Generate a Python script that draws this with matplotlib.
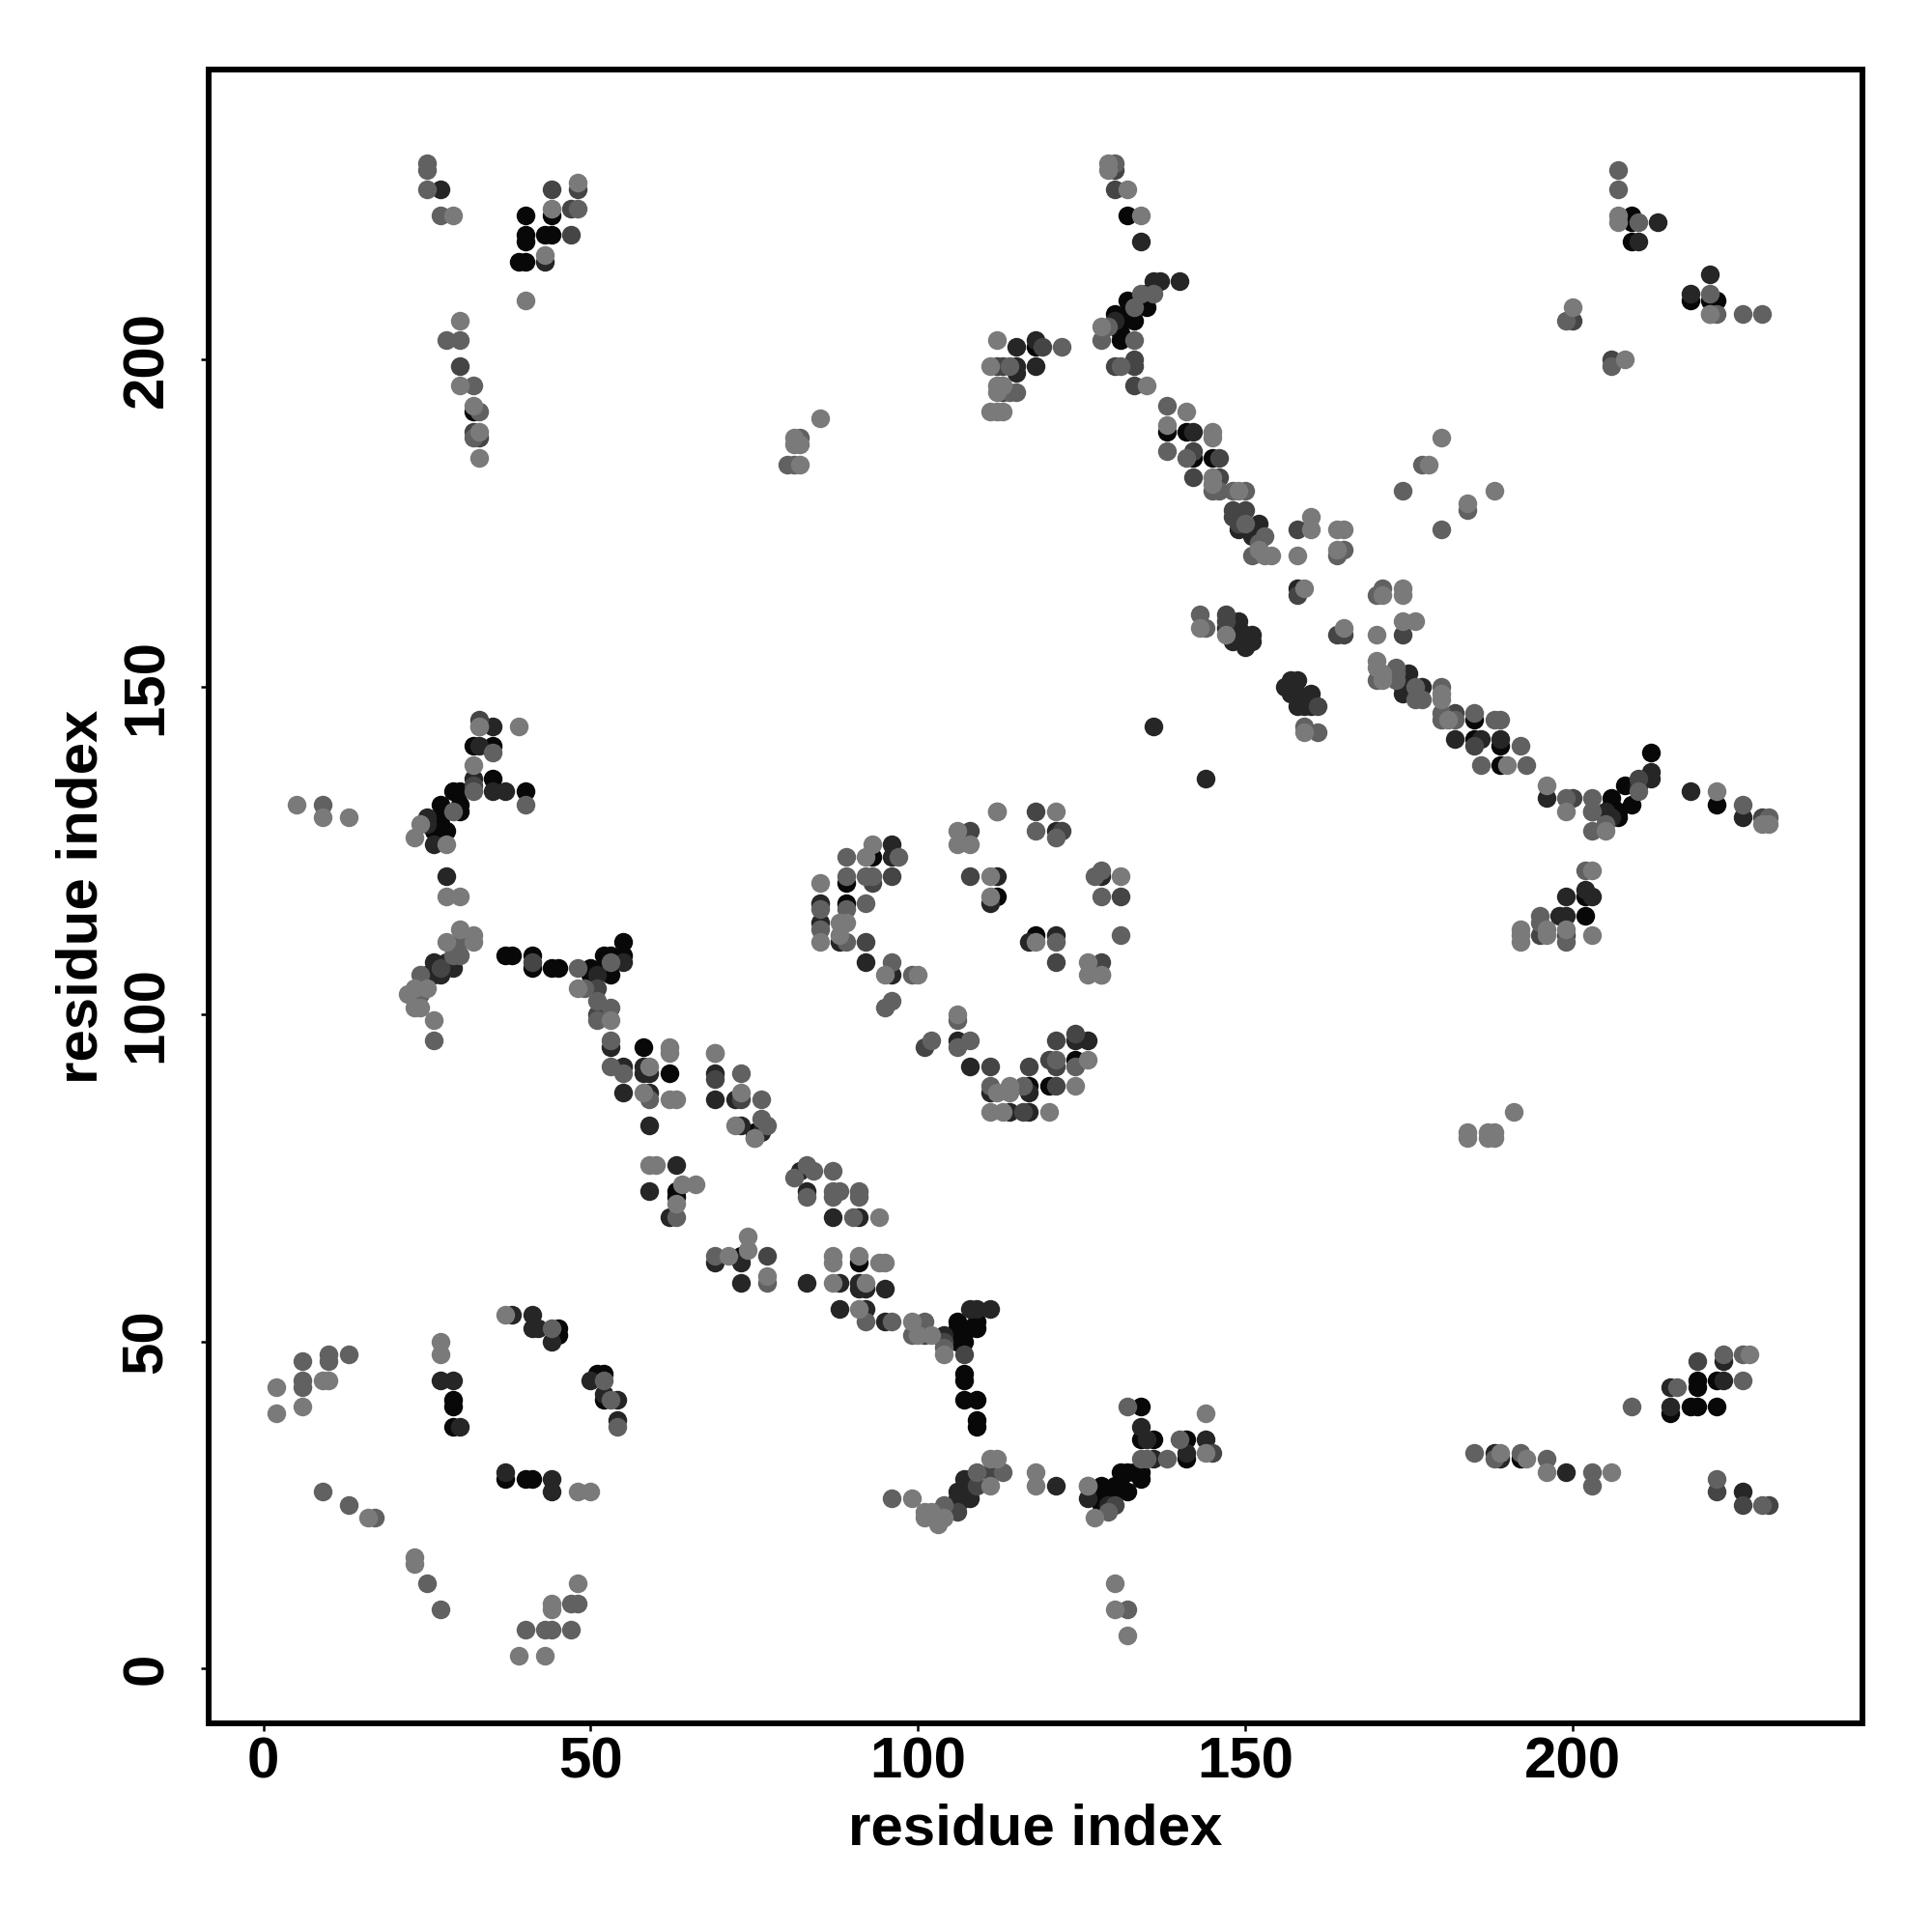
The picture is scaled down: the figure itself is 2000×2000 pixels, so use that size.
import matplotlib
matplotlib.use("Agg")
import matplotlib.pyplot as plt

# contacts as (residue x, residue y), one list per grey level
black_pts = [
    (40,222),(40,219),(40,218),(39,215),(40,215),(43,219),(44,219),(44,222),(32,192),
    (132,222),(135,210),(132,209),(135,208),(133,208),(130,207),(132,207),(131,206),(133,206),
    (131,204),(131,203),(118,202),(138,189),(141,189),(142,185),(145,185),
    (209,222),(209,221),(209,218),(218,209),(221,209),(222,209),
    (32,141),(35,141),(35,136),(40,134),(29,134),(30,134),(30,132),(30,131),(27,132),(27,130),
    (27,129),(28,128),(26,129),(26,128),
    (37,109),(38,109),(41,109),(41,107),(44,107),(45,107),(55,111),(55,109),(52,109),(53,109),
    (50,107),(52,107),(50,106),(53,106),
    (58,95),(62,91),(63,73),(93,124),(89,120),(89,117),(112,118),(118,112),(124,93),(117,89),
    (120,89),(75,82),(91,62),(106,53),(106,52),(109,53),(109,52),(106,51),(107,50),(106,50),
    (108,52),(107,45),(107,44),(107,41),(109,41),(109,38),(109,37),
    (134,40),(134,35),(136,35),(141,35),(141,32),(131,30),(132,30),(133,30),(134,30),(134,29),
    (131,28),(128,28),(132,27),(130,28),(130,27),(128,27),(128,26),(129,26),(128,25),
    (29,41),(29,40),(29,37),(45,52),(45,51),(52,45),(51,45),(52,41),(37,29),(40,29),(41,29),
    (73,63),(63,72),(215,39),(218,40),(219,40),(222,40),(219,44),(219,43),(222,44),(192,32),
    (212,140),(208,135),(209,132),(206,133),(206,132),(207,131),(207,130),(222,132),(202,118),
    (202,115),(185,145),(185,142),(189,141),(189,138),
]
dark_pts = [
    (27,226),(43,215),(134,218),(136,212),(137,212),(140,212),(130,206),(115,202),(118,203),
    (115,199),(115,198),(118,199),(142,189),(149,174),(152,175),(151,173),(150,158),(151,158),
    (150,156),(151,157),(148,157),(149,160),(147,159),(149,159),(157,151),(156,150),(157,149),
    (213,221),(210,218),(221,213),(218,210),
    (35,144),(33,141),(32,136),(35,134),(37,134),(26,126),(25,130),(25,129),(28,121),
    (26,108),(28,108),(29,107),(25,106),(26,106),(27,106),(55,108),(51,106),(53,95),(55,92),
    (58,92),(58,91),(59,91),(69,91),(55,88),(59,88),(69,87),(72,87),(59,83),(73,83),(63,77),(59,73),
    (136,144),(144,136),(121,128),(96,126),(96,124),(85,117),(85,114),(88,111),(92,108),(96,106),
    (112,121),(111,117),(128,121),(121,112),(117,111),(106,96),(108,92),(124,96),(126,96),
    (111,88),(117,88),(114,85),(117,85),(76,82),(82,76),(83,73),
    (87,69),(91,69),(83,59),(88,59),(91,59),(91,58),(92,58),(95,58),(88,55),(92,55),(95,53),
    (104,51),(108,55),(109,55),(111,55),(134,37),(135,35),(144,35),(141,33),(136,32),
    (126,26),(129,25),(121,28),(107,29),(108,29),(106,27),(107,28),(107,26),(108,26),(106,26),(106,25),
    (27,44),(29,44),(38,54),(41,54),(41,52),(42,52),(44,50),(50,44),(52,42),(54,41),(54,38),(30,37),
    (37,30),(44,29),(44,27),(62,69),(69,62),(73,62),(73,59),(215,43),(215,40),(223,44),(223,47),
    (226,27),(188,33),(189,32),(199,30),
    (212,137),(212,136),(210,135),(205,131),(206,130),(205,130),(203,131),(196,133),(218,134),
    (226,130),(202,119),(203,118),(199,118),(198,115),(199,115),
    (175,152),(174,150),(174,149),(177,150),(182,142),(186,142),(189,142),
    (158,151),(160,149),(158,149),(159,148),(159,147),(158,147),(160,147),(158,165),
]
middark_pts = [
    (44,226),(47,223),(47,219),(48,226),(130,199),(30,199),(33,188),(32,189),(130,229),(130,226),
    (133,200),(133,199),(133,196),(112,199),(113,199),(113,195),(119,202),(142,186),(142,182),
    (146,185),(146,182),(148,177),(148,176),(150,177),(149,175),(147,161),(147,160),
    (200,206),(206,200),(158,174),(158,164),(164,158),(165,158),(174,158),
    (33,145),(32,135),(41,108),(27,107),(24,104),(51,104),(51,100),(69,90),(73,87),
    (118,131),(108,128),(122,128),(93,120),(96,121),(92,111),(108,121),(131,118),(121,108),(128,108),
    (128,106),(101,95),(111,92),(117,92),(121,96),(124,97),(120,93),(121,92),(121,89),(116,85),
    (77,63),(103,24),(106,24),(109,28),(111,30),(145,33),(130,25),(104,50),(101,51),(107,48),
    (219,47),(222,27),(226,25),(230,25),(200,133),(210,136),(229,130),(199,112),(195,112),
    (182,146),(185,141),(161,147),
]
mid_pts = [
    (25,230),(25,229),(25,226),(27,222),(30,203),(32,196),(33,192),(32,188),(28,203),(48,223),
    (130,230),(133,203),(128,203),(129,205),(131,199),(133,208),(122,202),(138,193),(138,186),
    (141,185),(145,180),(146,180),(148,180),(150,180),(150,175),(153,173),(152,172),(151,170),
    (82,188),(80,184),(81,184),(114,195),(115,195),(114,199),(144,159),(143,161),(134,210),(136,210),
    (207,229),(207,226),(210,221),(221,210),(221,207),(222,207),(226,207),(229,207),(199,206),(206,199),
    (177,184),(174,180),(184,177),(180,174),(164,170),(165,171),(171,165),(170,164),
    (9,132),(40,132),(35,140),(32,134),(29,131),(33,144),(30,111),(30,109),(29,109),(24,106),(24,103),
    (26,96),(48,107),(53,108),(49,104),(51,102),(51,99),(53,101),(53,96),(53,92),(55,91),(59,87),
    (69,94),(73,91),(112,131),(118,128),(121,127),(89,124),(97,124),(89,121),(92,121),(93,121),(89,116),
    (92,117),(85,113),(85,116),(89,111),(96,108),(99,106),(95,101),(96,102),(102,96),(106,95),(108,96),(106,99),
    (128,122),(127,121),(128,118),(121,111),(131,112),(121,93),(124,92),(111,89),(116,89),
    (76,87),(76,84),(77,83),(75,81),(83,77),(84,76),(81,75),(87,76),(87,73),(88,73),(91,73),
    (83,72),(87,72),(91,72),(90,69),(63,69),(77,59),(92,53),(96,53),(101,53),(99,51),(104,49),
    (132,40),(140,35),(134,32),(135,32),(138,32),(126,28),(129,24),(132,9),(96,26),(109,30),(113,30),(104,25),
    (6,47),(6,44),(6,43),(10,48),(10,47),(13,48),(44,52),(52,44),(53,41),(54,37),(47,10),(48,10),
    (40,6),(43,6),(44,6),(47,6),(9,27),(13,25),(17,23),(25,13),(27,9),(69,63),
    (209,40),(216,43),(223,48),(226,44),(226,48),(185,33),(188,32),(192,33),(196,32),(203,30),(203,28),
    (222,29),(229,25),
    (210,134),(203,133),(205,129),(203,128),(199,133),(203,131),(226,132),(230,130),
    (202,122),(195,115),(195,114),(199,111),
    (170,151),(173,153),(173,152),(173,151),(176,150),(176,148),(177,148),(180,150),(180,146),(180,145),
    (182,145),(185,146),(188,145),(189,145),(192,141),(186,138),(193,138),(159,144),(161,143),
]
light_pts = [
    (29,222),(48,227),(43,216),(40,209),(30,206),(30,196),(32,193),(33,189),(33,185),(44,223),
    (129,230),(129,229),(132,226),(134,222),(128,205),(135,196),(112,203),(111,199),(112,196),(112,195),
    (113,196),(111,192),(112,192),(113,192),(85,191),(81,188),(81,187),(82,187),(82,184),
    (141,192),(138,190),(145,189),(145,188),(145,182),(145,181),(149,180),(152,171),(153,170),(154,170),
    (143,159),(147,158),
    (207,222),(207,221),(221,207),(200,208),(208,200),(180,188),(178,184),(188,180),(184,178),
    (160,176),(160,174),(164,174),(165,174),(164,171),(158,170),(159,165),(171,164),(174,165),(174,164),
    (165,159),(170,158),(174,160),(176,160),(170,154),
    (5,132),(9,130),(13,130),(33,144),(39,144),(32,138),(24,129),(23,127),(28,126),(28,118),(30,118),
    (30,113),(32,112),(32,111),(28,111),(25,104),(23,104),(22,103),(23,101),(24,101),(26,99),
    (48,104),(53,99),(62,95),(62,94),(69,94),(59,92),(58,88),(62,87),(63,87),(73,88),(72,83),(75,81),
    (59,77),(60,77),(64,74),(66,74),(93,126),(92,124),(85,120),(88,114),(89,114),(85,111),(88,112),(95,106),(100,106),
    (106,128),(106,126),(108,126),(112,131),(121,131),(111,121),(111,118),(131,121),(118,111),
    (126,108),(126,106),(128,106),(106,100),(126,93),(112,88),(114,89),(114,88),(124,89),
    (111,85),(113,85),(120,85),(94,69),
    (87,63),(87,62),(91,63),(94,62),(95,62),(77,60),(87,59),(92,59),(91,55),(99,53),(100,51),(102,51),(104,48),
    (144,39),(144,33),(126,28),(127,23),(130,13),(130,9),(132,5),(118,30),(118,28),(99,26),
    (111,32),(112,32),(111,28),(101,24),(102,24),(101,23),(104,23),(103,22),
    (2,43),(2,39),(6,40),(9,44),(10,44),(27,50),(27,48),(37,54),(48,27),(50,27),(16,23),(23,17),(23,16),
    (48,13),(44,10),(44,9),(39,2),(43,2),(63,71),(71,63),(74,66),(74,64),
    (227,48),(189,33),(193,32),(196,30),(206,30),
    (196,135),(199,131),(205,128),(222,134),(229,129),(230,129),
    (203,122),(203,112),(199,113),(196,113),(196,112),(192,113),(192,112),(192,111),
    (191,85),(184,82),(184,81),(187,82),(188,82),(187,81),(188,81),
    (170,153),(171,152),(171,151),(180,149),(180,148),(181,145),(190,138),(159,143),
]

grey_levels = [0.03, 0.15, 0.27, 0.38, 0.48]
tiers = [black_pts, dark_pts, middark_pts, mid_pts, light_pts]

x_ticks = [0, 50, 100, 150, 200]
y_ticks = [0, 50, 100, 150, 200]

FONT = "Liberation Sans"

fig = plt.figure(figsize=(10, 10), dpi=200)
ax = fig.add_axes([216 / 2000, 1 - 1784 / 2000, (1928 - 216) / 2000, (1784 - 72) / 2000])

# darkest first so the pale dots sit on top, like in the reference
for pts, grey in zip(tiers, grey_levels):
    ax.scatter([p[0] for p in pts], [p[1] for p in pts], s=49,
               color=str(grey), linewidths=0, zorder=3)

ax.set_xlim(-8.37, 244.3)
ax.set_ylim(-8.37, 244.3)
ax.set_xticks(x_ticks)
ax.set_yticks(y_ticks)
ax.tick_params(axis="x", length=3, width=0.9, pad=1.7)
ax.tick_params(axis="y", length=3, width=0.9, pad=10)
for lab in ax.get_xticklabels():
    lab.set(fontfamily=FONT, fontweight="bold", fontsize=21.6)
for lab in ax.get_yticklabels():
    lab.set(fontfamily=FONT, fontweight="bold", fontsize=21.6, rotation=90, va="center")
ax.set_xlabel("residue index", fontfamily=FONT, fontweight="bold", fontsize=21.6, labelpad=5.2)
ax.set_ylabel("residue index", fontfamily=FONT, fontweight="bold", fontsize=21.6, labelpad=4.4)
for spine in ax.spines.values():
    spine.set_linewidth(2.15)

fig.savefig("out.png", dpi=200, facecolor="white")
